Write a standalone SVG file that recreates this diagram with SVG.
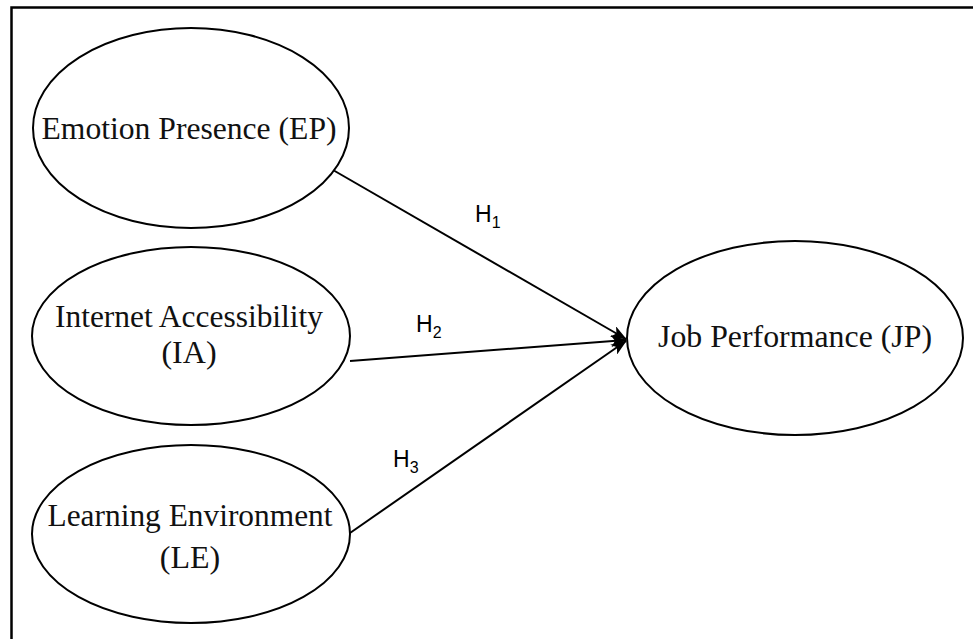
<svg xmlns="http://www.w3.org/2000/svg" width="973" height="639" viewBox="0 0 973 639">
<defs>
<style>
.node ellipse{fill:#fff;stroke:#000;stroke-width:2}
.lbl{font-family:"Liberation Serif","Times New Roman",serif;font-size:32px;fill:#111;text-anchor:middle}
.h{font-family:"Liberation Sans",Arial,sans-serif;font-size:23px;fill:#000}
.h tspan.s{font-size:16px}
.edge{stroke:#000;stroke-width:2;fill:none;marker-end:url(#ah)}
</style>
<marker id="ah" viewBox="0 0 16 12" refX="15" refY="6" markerWidth="16" markerHeight="12" markerUnits="userSpaceOnUse" orient="auto">
<path d="M0,0 L16,6 L0,12 L4,6 Z" fill="#000"/>
</marker>
</defs>
<rect width="973" height="639" fill="#fff"/>
<path d="M11.5,639 V7.5 H973" fill="none" stroke="#000" stroke-width="2.5"/>
<g id="connectors">
<line class="edge" x1="333" y1="170" x2="626" y2="339"/>
<line class="edge" x1="350" y1="361" x2="626" y2="340"/>
<line class="edge" x1="350" y1="533" x2="626" y2="341"/>
<text class="h" x="475" y="222">H<tspan class="s" dy="6">1</tspan></text>
<text class="h" x="416" y="332">H<tspan class="s" dy="6">2</tspan></text>
<text class="h" x="393" y="467">H<tspan class="s" dy="6">3</tspan></text>
</g>
<g id="EP" class="node">
<ellipse cx="191" cy="128" rx="158" ry="100"/>
<text class="lbl" x="189" y="139" textLength="295" lengthAdjust="spacingAndGlyphs">Emotion Presence (EP)</text>
</g>
<g id="IA" class="node">
<ellipse cx="191" cy="336" rx="159" ry="89"/>
<text class="lbl" x="189" y="327" textLength="268" lengthAdjust="spacingAndGlyphs">Internet Accessibility</text>
<text class="lbl" x="189" y="363">(IA)</text>
</g>
<g id="LE" class="node">
<ellipse cx="191" cy="534" rx="159" ry="89"/>
<text class="lbl" x="190" y="526" textLength="285" lengthAdjust="spacingAndGlyphs">Learning Environment</text>
<text class="lbl" x="190" y="568">(LE)</text>
</g>
<g id="JP" class="node">
<ellipse cx="795" cy="338" rx="168" ry="97"/>
<text class="lbl" x="795" y="347" textLength="274" lengthAdjust="spacingAndGlyphs">Job Performance (JP)</text>
</g>
</svg>
